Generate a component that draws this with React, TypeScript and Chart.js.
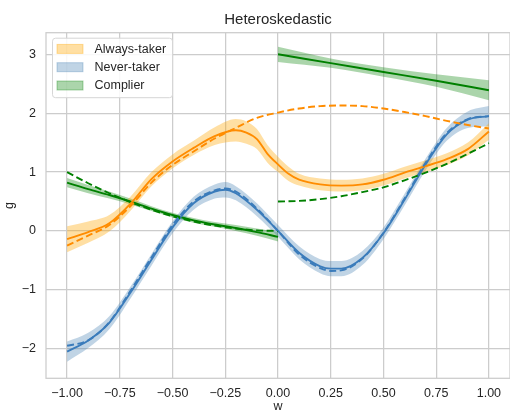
import React, { useEffect, useRef } from 'react';
import { Chart, registerables } from 'chart.js';

Chart.register(...registerables);

const FONT = "'Liberation Sans', Arial, Helvetica, sans-serif";
const TEXT = '#262626';
const GRID = '#cccccc';

const chartTitle = 'Heteroskedastic';
const xTitle = 'w';
const yTitle = 'g';
const xTicks = [-1, -0.75, -0.5, -0.25, 0, 0.25, 0.5, 0.75, 1];
const yTicks = [-2, -1, 0, 1, 2, 3];
const legendLabels = ['Always-taker', 'Never-taker', 'Complier'];

// Always-taker (orange)
const xAlwaysEst = [-1, -0.9, -0.8, -0.7, -0.6, -0.5, -0.4, -0.3, -0.2, -0.15, -0.1, -0.05, 0, 0.05, 0.1, 0.2, 0.3, 0.4, 0.5, 0.6, 0.7, 0.8, 0.9, 1];
const alwaysEst = [-0.14, -0.02, 0.13, 0.46, 0.88, 1.18, 1.41, 1.61, 1.71, 1.67, 1.56, 1.31, 1.13, 0.97, 0.87, 0.79, 0.77, 0.79, 0.87, 0.99, 1.1, 1.22, 1.39, 1.69];
const alwaysUpper = [0.08, 0.16, 0.27, 0.58, 1.0, 1.3, 1.53, 1.76, 1.9, 1.86, 1.73, 1.46, 1.26, 1.09, 0.97, 0.89, 0.87, 0.89, 0.97, 1.09, 1.2, 1.32, 1.5, 1.83];
const alwaysLower = [-0.36, -0.2, -0.01, 0.34, 0.76, 1.06, 1.29, 1.46, 1.52, 1.48, 1.39, 1.16, 1.0, 0.85, 0.77, 0.69, 0.67, 0.69, 0.77, 0.89, 1.0, 1.12, 1.28, 1.55];
const xAlwaysTrue = [-1, -0.9, -0.8, -0.7, -0.6, -0.5, -0.4, -0.3, -0.2, -0.1, 0, 0.1, 0.2, 0.3, 0.4, 0.5, 0.6, 0.7, 0.8, 0.9, 1];
const alwaysTrue = [-0.25, -0.08, 0.1, 0.42, 0.82, 1.12, 1.35, 1.57, 1.75, 1.92, 2.01, 2.08, 2.12, 2.13, 2.12, 2.08, 2.02, 1.95, 1.87, 1.8, 1.74];

// Never-taker (blue)
const xNever = [-1, -0.9, -0.8, -0.7, -0.6, -0.5, -0.4, -0.3, -0.25, -0.2, -0.1, 0, 0.1, 0.2, 0.25, 0.3, 0.4, 0.5, 0.6, 0.7, 0.8, 0.9, 1];
const neverEst = [-2.05, -1.86, -1.56, -1.05, -0.49, 0.06, 0.47, 0.67, 0.7, 0.64, 0.36, 0.0, -0.37, -0.6, -0.64, -0.64, -0.46, -0.04, 0.53, 1.13, 1.64, 1.89, 1.95];
const neverUpper = [-1.88, -1.73, -1.45, -0.95, -0.39, 0.16, 0.58, 0.79, 0.83, 0.76, 0.47, 0.1, -0.26, -0.48, -0.51, -0.51, -0.34, 0.06, 0.63, 1.23, 1.75, 2.03, 2.12];
const neverLower = [-2.22, -1.99, -1.67, -1.15, -0.59, -0.04, 0.36, 0.55, 0.57, 0.52, 0.25, -0.1, -0.48, -0.72, -0.77, -0.77, -0.58, -0.14, 0.43, 1.03, 1.53, 1.75, 1.78];
const neverTrue = [-1.95, -1.86, -1.55, -1.02, -0.45, 0.1, 0.5, 0.69, 0.72, 0.67, 0.38, 0.0, -0.4, -0.63, -0.68, -0.67, -0.47, -0.03, 0.55, 1.16, 1.66, 1.9, 1.95];

// Complier (green), w < 0
const xCompLeft = [-1, -0.9, -0.8, -0.7, -0.6, -0.5, -0.4, -0.3, -0.2, -0.1, 0];
const compLeftEst = [0.82, 0.71, 0.61, 0.5, 0.38, 0.27, 0.18, 0.11, 0.05, -0.02, -0.1];
const compLeftUpper = [0.9, 0.78, 0.67, 0.55, 0.42, 0.31, 0.22, 0.15, 0.1, 0.04, -0.02];
const compLeftLower = [0.74, 0.64, 0.55, 0.45, 0.34, 0.23, 0.14, 0.07, 0.0, -0.08, -0.18];
const compLeftTrue = [1.0, 0.81, 0.64, 0.49, 0.36, 0.25, 0.16, 0.09, 0.04, 0.01, 0.0];

// Complier (green), w >= 0
const xCompRightEst = [0, 0.25, 0.5, 0.75, 1];
const compRightEst = [3.0, 2.85, 2.7, 2.55, 2.39];
const compRightUpper = [3.13, 2.93, 2.78, 2.66, 2.56];
const compRightLower = [2.87, 2.77, 2.62, 2.45, 2.22];
const xCompRightTrue = [0, 0.1, 0.2, 0.3, 0.4, 0.5, 0.6, 0.7, 0.8, 0.9, 1];
const compRightTrue = [0.5, 0.51, 0.54, 0.59, 0.66, 0.74, 0.86, 0.99, 1.14, 1.31, 1.49];

const ORANGE = '#ff8c00';
const ORANGE_FILL = 'rgba(255,165,0,0.36)';
const BLUE = '#3b7cbb';
const BLUE_FILL = 'rgba(70,130,180,0.34)';
const GREEN = '#008000';
const GREEN_FILL = 'rgba(0,128,0,0.33)';
const legendFills = [ORANGE_FILL, BLUE_FILL, GREEN_FILL];

const pts = (xs: number[], ys: number[]) => xs.map((x, i) => ({ x, y: ys[i] }));
const fmtNum = (v: number, d: number) => (v < 0 ? '\u2212' : '') + Math.abs(v).toFixed(d);

const common = {
  pointRadius: 0,
  pointHoverRadius: 0,
  cubicInterpolationMode: 'monotone' as const,
};

function band(xs: number[], up: number[], lo: number[], fill: string) {
  return [
    { ...common, data: pts(xs, up), borderColor: 'transparent', borderWidth: 0, fill: false, order: 10 },
    { ...common, data: pts(xs, lo), borderColor: 'transparent', borderWidth: 0, backgroundColor: fill, fill: '-1', order: 10 },
  ];
}
function solid(xs: number[], ys: number[], color: string) {
  return { ...common, data: pts(xs, ys), borderColor: color, borderWidth: 1.9, fill: false, order: 5 };
}
function dashed(xs: number[], ys: number[], color: string) {
  return { ...common, data: pts(xs, ys), borderColor: color, borderWidth: 1.9, borderDash: [7, 3.5], fill: false, order: 4 };
}

const frameAndLegend = {
  id: 'frameAndLegend',
  beforeDatasetsDraw(chart: any) {
    const { ctx, chartArea: a } = chart;
    ctx.save();
    ctx.strokeStyle = GRID;
    ctx.lineWidth = 1.25;
    ctx.strokeRect(a.left, a.top, a.right - a.left, a.bottom - a.top);
    ctx.restore();
  },
  afterDatasetsDraw(chart: any) {
    const { ctx, chartArea: a } = chart;
    ctx.save();
    // title centred over the plot area
    ctx.font = `15px ${FONT}`;
    ctx.fillStyle = TEXT;
    ctx.textAlign = 'center';
    ctx.textBaseline = 'alphabetic';
    ctx.fillText(chartTitle, (a.left + a.right) / 2, 23.6);
    // legend
    const bx = a.left + 6.5;
    const by = a.top + 5.5;
    const bw = 120;
    const bh = 59.5;
    ctx.beginPath();
    ctx.roundRect(bx, by, bw, bh, 3);
    ctx.fillStyle = 'rgba(255,255,255,0.85)';
    ctx.fill();
    ctx.strokeStyle = '#d6d6d6';
    ctx.lineWidth = 1;
    ctx.stroke();
    ctx.font = `12.5px ${FONT}`;
    ctx.textBaseline = 'middle';
    ctx.textAlign = 'left';
    legendLabels.forEach((lab, i) => {
      const cy = by + 10.7 + i * 18.3;
      ctx.fillStyle = legendFills[i];
      ctx.fillRect(bx + 4.5, cy - 4.5, 26, 9);
      ctx.strokeStyle = legendFills[i];
      ctx.lineWidth = 1;
      ctx.strokeRect(bx + 4.5, cy - 4.5, 26, 9);
      ctx.fillStyle = TEXT;
      ctx.fillText(lab, bx + 42, cy + 0.5);
    });
    ctx.restore();
  },
};

export default function App() {
  const ref = useRef<HTMLCanvasElement>(null);
  useEffect(() => {
    if (!ref.current) return;
    const datasets: any[] = [
      ...band(xAlwaysEst, alwaysUpper, alwaysLower, ORANGE_FILL),
      solid(xAlwaysEst, alwaysEst, ORANGE),
      dashed(xAlwaysTrue, alwaysTrue, ORANGE),
      ...band(xNever, neverUpper, neverLower, BLUE_FILL),
      solid(xNever, neverEst, BLUE),
      dashed(xNever, neverTrue, BLUE),
      ...band(xCompLeft, compLeftUpper, compLeftLower, GREEN_FILL),
      solid(xCompLeft, compLeftEst, GREEN),
      dashed(xCompLeft, compLeftTrue, GREEN),
      ...band(xCompRightEst, compRightUpper, compRightLower, GREEN_FILL),
      solid(xCompRightEst, compRightEst, GREEN),
      dashed(xCompRightTrue, compRightTrue, GREEN),
    ];
    const chart = new Chart(ref.current, {
      type: 'line',
      data: { datasets },
      plugins: [frameAndLegend],
      options: {
        responsive: false,
        animation: false,
        devicePixelRatio: 1,
        layout: { padding: { top: 32.7, left: 0, right: 0, bottom: 0 } },
        plugins: {
          legend: { display: false },
          tooltip: { enabled: false },
          title: { display: false },
        },
        scales: {
          x: {
            type: 'linear',
            min: -1.1,
            max: 1.1,
            afterBuildTicks: (s: any) => { s.ticks = xTicks.map((v) => ({ value: v })); },
            afterFit: (s: any) => { s.height = 35.7; },
            grid: { color: GRID, lineWidth: 1.25, drawTicks: false },
            border: { display: false },
            ticks: {
              color: TEXT,
              padding: 8,
              maxRotation: 0,
              font: { family: FONT, size: 12.5 },
              callback: (v: any) => fmtNum(Number(v), 2),
            },
            title: {
              display: true,
              text: xTitle,
              color: TEXT,
              font: { family: FONT, size: 12.5, lineHeight: 1.2 },
              padding: { top: 0, bottom: 0 },
            },
          },
          y: {
            type: 'linear',
            min: -2.503,
            max: 3.367,
            afterBuildTicks: (s: any) => { s.ticks = yTicks.map((v) => ({ value: v })); },
            afterFit: (s: any) => { s.width = 46; },
            grid: { color: GRID, lineWidth: 1.25, drawTicks: false },
            border: { display: false },
            ticks: {
              color: TEXT,
              padding: 10,
              font: { family: FONT, size: 12.5 },
              callback: (v: any) => fmtNum(Number(v), 0),
            },
            title: {
              display: true,
              text: yTitle,
              color: TEXT,
              font: { family: FONT, size: 12.5, lineHeight: 1.2 },
              padding: { top: 2, bottom: 0 },
            },
          },
        },
      },
    } as any);
    return () => chart.destroy();
  }, []);
  return (
    <div style={{ position: 'absolute', left: 0, top: 0, width: 510, height: 414, background: '#fff' }}>
      <canvas ref={ref} width={510} height={414} style={{ display: 'block' }} />
    </div>
  );
}
